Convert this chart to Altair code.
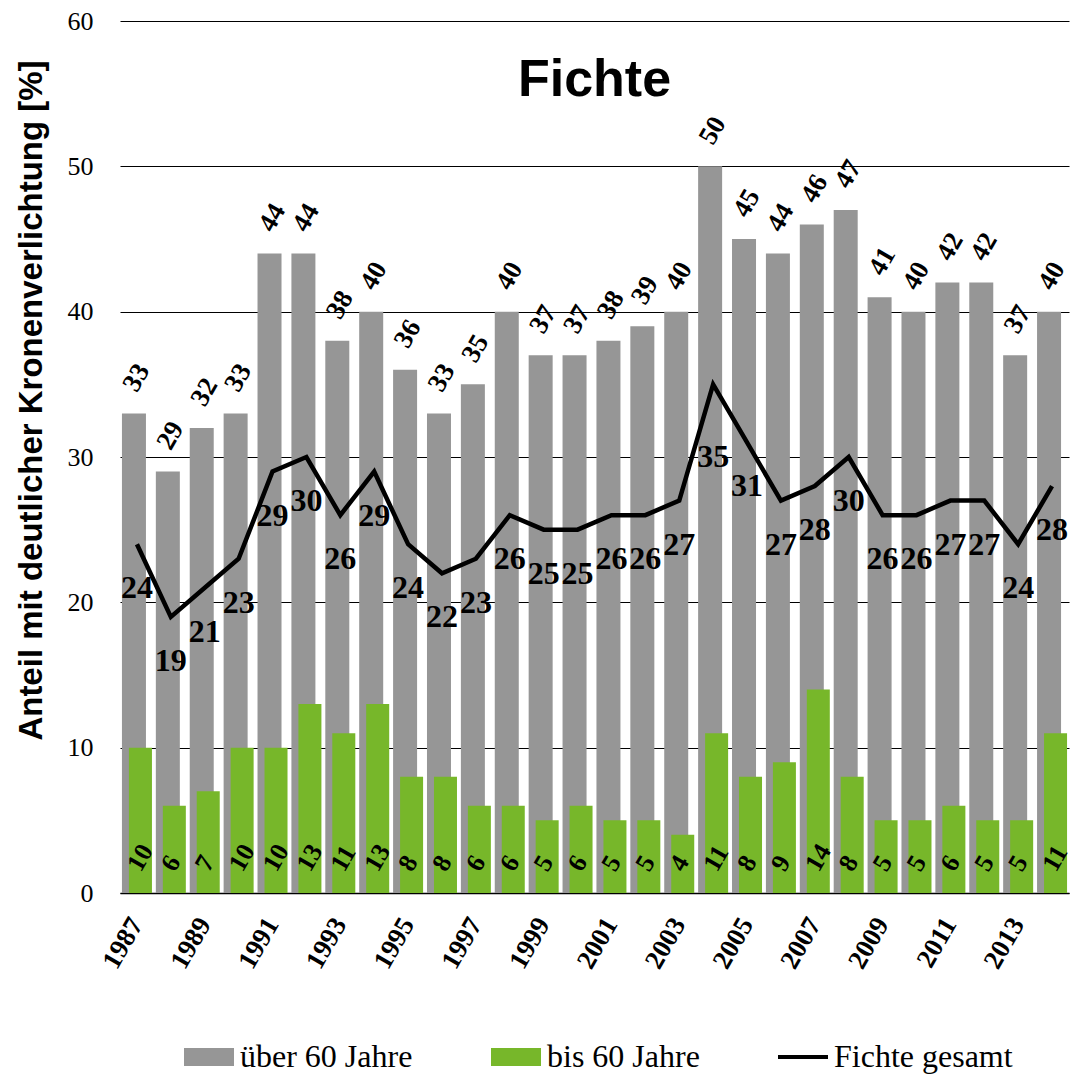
import altair as alt
import pandas as pd

years = [str(y) for y in range(1987, 2015)]
ueber60 = [33, 29, 32, 33, 44, 44, 38, 40, 36, 33, 35, 40, 37, 37, 38, 39, 40, 50, 45, 44, 46, 47, 41, 40, 42, 42, 37, 40]
bis60 = [10, 6, 7, 10, 10, 13, 11, 13, 8, 8, 6, 6, 5, 6, 5, 5, 4, 11, 8, 9, 14, 8, 5, 5, 6, 5, 5, 11]
gesamt = [24, 19, 21, 23, 29, 30, 26, 29, 24, 22, 23, 26, 25, 25, 26, 26, 27, 35, 31, 27, 28, 30, 26, 26, 27, 27, 24, 28]
tick_years = [str(y) for y in range(1987, 2014, 2)]
y_ticks = [0, 10, 20, 30, 40, 50, 60]
series = ["über 60 Jahre", "bis 60 Jahre", "Fichte gesamt"]
colors = ["#969696", "#77B72A", "#000000"]

df = pd.DataFrame({"year": years, "ueber": ueber60, "bis": bis60, "gesamt": gesamt})
tick_df = pd.DataFrame({"year": tick_years})
leg_df = pd.DataFrame({"series": series})

SERIF = "Liberation Serif"
SANS = "Liberation Sans"

x_enc = alt.X(
    "year:O",
    sort=years,
    scale=alt.Scale(domain=years, paddingInner=0, paddingOuter=0),
    axis=alt.Axis(
        values=tick_years, labels=False, ticks=False, grid=False, domain=True,
        domainColor="black", domainWidth=1.5, title=None,
    ),
)
y_scale = alt.Scale(domain=[0, 60], nice=False)
y_axis = alt.Axis(
    values=y_ticks, grid=True, gridColor="black", gridWidth=1, domain=False, ticks=False,
    labelPadding=27, labelFont=SERIF, labelFontSize=26, labelColor="black",
    title="Anteil mit deutlicher Kronenverlichtung [%]", titleFont=SANS, titleFontSize=33,
    titleFontWeight="bold", titleColor="black", titleAngle=270, titleX=-89, titleY=379,
    titleAlign="center", titleBaseline="middle",
)

base = alt.Chart(df)
xo = alt.X("year:O", sort=years)

gray_bars = base.mark_bar(color=colors[0], size=24, xOffset=-3).encode(
    x=x_enc, y=alt.Y("ueber:Q", scale=y_scale, axis=y_axis)
)
green_bars = base.mark_bar(color=colors[1], size=23, xOffset=3.5).encode(x=xo, y=alt.Y("bis:Q"))
line = base.mark_line(color="black", strokeWidth=4.5).encode(x=xo, y=alt.Y("gesamt:Q"))
gray_text = base.mark_text(
    font=SERIF, fontWeight="bold", fontSize=27, angle=300, align="left", baseline="middle",
    xOffset=-7, yOffset=-24, color="black",
).encode(x=xo, y=alt.Y("ueber:Q"), text="ueber:Q")
green_text = base.mark_text(
    font=SERIF, fontWeight="bold", fontSize=26, angle=300, align="left", baseline="middle",
    xOffset=-3, yOffset=-24, color="black",
).encode(x=xo, y=alt.datum(0), text="bis:Q")
line_text = base.transform_filter("datum.gesamt < 35").mark_text(
    font=SERIF, fontWeight="bold", fontSize=32, align="center", baseline="middle",
    yOffset=44, color="black",
).encode(x=xo, y=alt.Y("gesamt:Q"), text="gesamt:Q")
peak_text = base.transform_filter("datum.gesamt >= 35").mark_text(
    font=SERIF, fontWeight="bold", fontSize=32, align="center", baseline="middle",
    yOffset=73, color="black",
).encode(x=xo, y=alt.Y("gesamt:Q"), text="gesamt:Q")
x_labels = alt.Chart(tick_df).mark_text(
    font=SERIF, fontWeight="bold", fontSize=27, angle=300, align="right", baseline="middle",
    yOffset=27, color="black",
).encode(x=xo, y=alt.datum(0), text="year:N")

rect_path = "M-1,-0.36L1,-0.36L1,0.36L-1,0.36Z"
line_path = "M-1,-0.08L1,-0.08L1,0.08L-1,0.08Z"
legend = alt.Legend(
    title=None, orient="none", legendX=64, legendY=1011, direction="horizontal",
    symbolSize=2500, labelFont=SERIF, labelFontSize=32, labelColor="black",
    labelOffset=6, columnPadding=78, labelLimit=400, symbolStrokeWidth=0, padding=0,
)
legend_layer = alt.Chart(leg_df).transform_filter("false").mark_point(filled=True, opacity=1).encode(
    color=alt.Color("series:N", scale=alt.Scale(domain=series, range=colors), legend=legend),
    shape=alt.Shape("series:N", scale=alt.Scale(domain=series, range=[rect_path, rect_path, line_path]), legend=legend),
)

chart = alt.layer(
    gray_bars, green_bars, line, gray_text, green_text, line_text, peak_text, x_labels, legend_layer
).properties(
    width=949, height=872,
    autosize=alt.AutoSizeParams(type="none"),
    padding={"left": 112, "top": 13, "right": 2, "bottom": 181},
    title=alt.TitleParams(
        "Fichte", font=SANS, fontSize=52, fontWeight="bold", color="black", anchor="middle",
        baseline="alphabetic", offset=-80, dy=60, frame="group",
    ),
    background="white",
).configure_view(stroke=None)

chart.save("out.html", embed_options={"renderer": "svg", "actions": False})
